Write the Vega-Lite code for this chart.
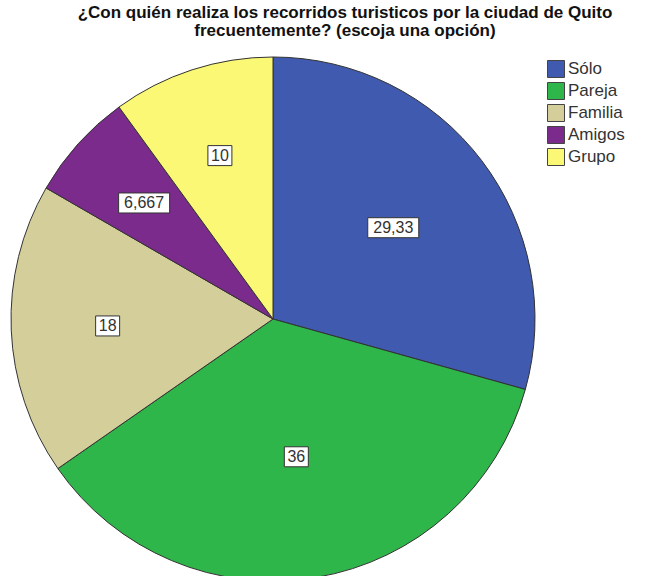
{
  "$schema": "https://vega.github.io/schema/vega-lite/v6.json",
  "width": 524,
  "height": 524,
  "autosize": "none",
  "padding": {"left": 11, "top": 57, "right": 122, "bottom": 0},
  "background": "white",
  "title": {
    "text": ["¿Con quién realiza los recorridos turisticos por la ciudad de Quito", "frecuentemente? (escoja una opción)"],
    "font": "Liberation Sans",
    "fontSize": 17,
    "fontWeight": "bold",
    "color": "#111111",
    "anchor": "middle",
    "dx": 72,
    "offset": 15,
    "lineHeight": 18
  },
  "data": {
    "values": [
      {"categoria": "Sólo", "valor": 29.33, "etiqueta": "29,33", "orden": 1},
      {"categoria": "Pareja", "valor": 36, "etiqueta": "36", "orden": 2},
      {"categoria": "Familia", "valor": 18, "etiqueta": "18", "orden": 3},
      {"categoria": "Amigos", "valor": 6.667, "etiqueta": "6,667", "orden": 4},
      {"categoria": "Grupo", "valor": 10, "etiqueta": "10", "orden": 5}
    ]
  },
  "transform": [
    {"window": [{"op": "sum", "field": "valor", "as": "acum"}], "sort": [{"field": "orden"}], "frame": [null, 0]},
    {"joinaggregate": [{"op": "sum", "field": "valor", "as": "total"}]},
    {"calculate": "2*PI*(datum.acum - datum.valor/2)/datum.total", "as": "ang"},
    {"calculate": "PI*datum.valor/datum.total", "as": "half"},
    {"calculate": "174.67*sin(datum.half)/datum.half", "as": "rc"},
    {"calculate": "datum.rc*sin(datum.ang)", "as": "lx"},
    {"calculate": "datum.rc*cos(datum.ang)", "as": "ly"},
    {"calculate": "length(datum.etiqueta)*9+6", "as": "bw"},
    {"calculate": "datum.lx - datum.bw/2", "as": "bx1"},
    {"calculate": "datum.lx + datum.bw/2", "as": "bx2"},
    {"calculate": "datum.ly - 10", "as": "by1"},
    {"calculate": "datum.ly + 10", "as": "by2"}
  ],
  "layer": [
    {
      "mark": {"type": "arc", "stroke": "#333333", "strokeWidth": 1},
      "encoding": {
        "theta": {"field": "valor", "type": "quantitative", "stack": true},
        "order": {"field": "orden", "type": "quantitative"},
        "color": {
          "field": "categoria",
          "type": "nominal",
          "sort": ["Sólo", "Pareja", "Familia", "Amigos", "Grupo"],
          "scale": {
            "domain": ["Sólo", "Pareja", "Familia", "Amigos", "Grupo"],
            "range": ["#3F5AAE", "#2EB64A", "#D4CE9A", "#7A2B8B", "#FAF875"]
          },
          "legend": {
            "title": null,
            "orient": "none",
            "legendX": 536,
            "legendY": 3,
            "symbolType": "square",
            "symbolSize": 289,
            "symbolStrokeColor": "#444444",
            "symbolStrokeWidth": 1,
            "symbolOpacity": 1,
            "labelFont": "Liberation Sans",
            "labelFontSize": 17,
            "labelColor": "#333333",
            "labelOffset": 3,
            "rowPadding": 0
          }
        }
      }
    },
    {
      "mark": {"type": "rect", "fill": "white", "stroke": "#333333", "strokeWidth": 1},
      "encoding": {
        "x": {"field": "bx1", "type": "quantitative", "scale": {"domain": [-262, 262], "nice": false, "zero": false}, "axis": null},
        "x2": {"field": "bx2"},
        "y": {"field": "by1", "type": "quantitative", "scale": {"domain": [-262, 262], "nice": false, "zero": false}, "axis": null},
        "y2": {"field": "by2"}
      }
    },
    {
      "mark": {"type": "text", "font": "Liberation Sans", "fontSize": 16, "color": "#333333", "align": "center", "baseline": "middle"},
      "encoding": {
        "x": {"field": "lx", "type": "quantitative", "scale": {"domain": [-262, 262], "nice": false, "zero": false}, "axis": null},
        "y": {"field": "ly", "type": "quantitative", "scale": {"domain": [-262, 262], "nice": false, "zero": false}, "axis": null},
        "text": {"field": "etiqueta"}
      }
    }
  ],
  "config": {"view": {"stroke": null}}
}
